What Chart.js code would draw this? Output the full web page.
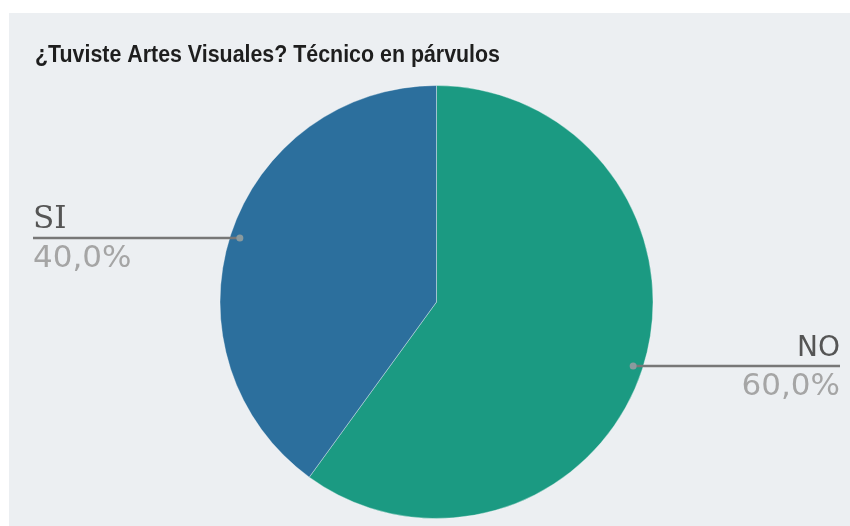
<!DOCTYPE html>
<html>
<head>
<meta charset="utf-8">
<script src="https://cdn.jsdelivr.net/npm/chart.js@4.4.1/dist/chart.umd.min.js"></script>
<style>
  html, body { margin: 0; padding: 0; background: #ffffff; }
  #wrap { position: absolute; left: 9px; top: 13px; width: 841px; height: 513px; background: #eceff2; }
</style>
</head>
<body>
<div id="wrap"><canvas id="chart" width="841" height="513"></canvas></div>
<script>
const titleText = '¿Tuviste Artes Visuales? Técnico en párvulos';
const labels = ['NO', 'SI'];
const values = [60, 40];
const percentLabels = ['60,0%', '40,0%'];
const colors = ['#1b9a82', '#2c6f9d'];

// draws title, leader lines and the outside labels
const outsideLabels = {
  id: 'outsideLabels',
  afterDraw(chart) {
    const ctx = chart.ctx;
    ctx.save();
    // title is a bit condensed in the original
    ctx.fillStyle = '#1e1e1e';
    ctx.font = 'bold 23px "Liberation Sans", Arial, sans-serif';
    ctx.textBaseline = 'alphabetic';
    ctx.textAlign = 'left';
    const tw = ctx.measureText(titleText).width;
    ctx.save();
    ctx.translate(26, 49);
    ctx.scale(465 / tw, 1);
    ctx.fillText(titleText, 0, 0);
    ctx.restore();

    const meta = chart.getDatasetMeta(0);
    meta.data.forEach((arc, i) => {
      const p = arc.getProps(['x', 'y', 'startAngle', 'endAngle', 'outerRadius'], true);
      const mid = (p.startAngle + p.endAngle) / 2;
      const r = p.outerRadius * 0.955;
      const dx = p.x + Math.cos(mid) * r;
      const dy = p.y + Math.sin(mid) * r;
      const left = Math.cos(mid) < 0;
      const edge = left ? 24 : chart.width - 10;

      ctx.strokeStyle = '#777777';
      ctx.lineWidth = 2.5;
      ctx.beginPath();
      ctx.moveTo(edge, dy);
      ctx.lineTo(dx, dy);
      ctx.stroke();

      ctx.fillStyle = '#8a9a9e';
      ctx.beginPath();
      ctx.arc(dx, dy, 3.5, 0, Math.PI * 2);
      ctx.fill();

      ctx.textAlign = left ? 'left' : 'right';
      ctx.fillStyle = '#555555';
      ctx.font = left ? '31px "DejaVu Serif", serif' : '28px "DejaVu Sans", sans-serif';
      ctx.fillText(chart.data.labels[i], edge, dy - 10);
      ctx.fillStyle = '#a5a5a5';
      ctx.font = '31px "DejaVu Sans", sans-serif';
      ctx.fillText(percentLabels[i], edge, dy + 29);
    });
    ctx.restore();
  }
};

new Chart(document.getElementById('chart'), {
  type: 'pie',
  data: {
    labels: labels,
    datasets: [{
      data: values,
      backgroundColor: colors,
      borderColor: 'rgba(255,255,255,0.35)',
      borderWidth: 1,
    }],
  },
  options: {
    responsive: false,
    animation: false,
    layout: { padding: { top: 72, bottom: 7, left: 100, right: 86 } },
    plugins: {
      legend: { display: false },
      tooltip: { enabled: false },
      title: { display: false },
    },
  },
  plugins: [outsideLabels],
});
</script>
</body>
</html>
